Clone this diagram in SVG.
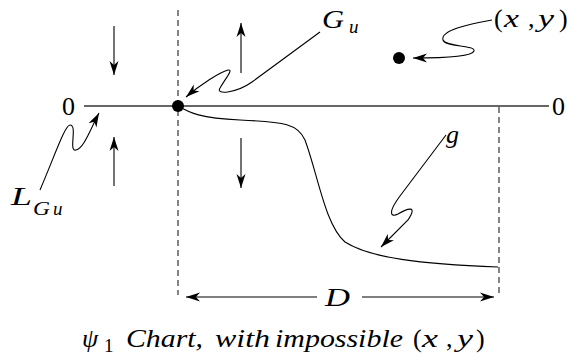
<svg xmlns="http://www.w3.org/2000/svg" width="567" height="360" viewBox="0 0 567 360">
<style>
.ln{fill:none;stroke:#000;stroke-width:1.1}
.ax{fill:none;stroke:#333;stroke-width:1.4}
.da{fill:none;stroke:#333;stroke-width:1.2;stroke-dasharray:6 4}
text{font-family:"Liberation Serif","DejaVu Serif","Times New Roman",serif;font-size:26px;fill:#000}
.i{font-style:italic}
.s{font-size:19px}
</style>
<defs>
<marker id="ah" viewBox="-14 -5 15 10" refX="0" refY="0" markerWidth="15" markerHeight="10" orient="auto" markerUnits="userSpaceOnUse">
<path d="M0,0 L-14,-4.5 L-10,0 L-14,4.5 Z" fill="#000"/>
</marker>
</defs>
<rect width="567" height="360" fill="#fff"/>
<g id="axes">
<line class="ax" x1="84" y1="106" x2="549" y2="106"/>
<line class="da" x1="178" y1="10" x2="178" y2="295"/>
<line class="da" x1="499" y1="107" x2="499" y2="294"/>
<text x="62" y="115">0</text>
<text x="552" y="115">0</text>
</g>
<g id="curve-g">
<path class="ln" d="M178,106 C190,113 200,118 240,120 C285,122 298,124 305,140 C318,175 325,225 345,242 C370,258 420,264 498,267"/>
</g>
<g id="points">
<circle cx="178" cy="106" r="6" fill="#000"/>
<circle cx="399" cy="58" r="6" fill="#000"/>
</g>
<g id="connectors">
<line class="ln" x1="114" y1="26" x2="114" y2="75" marker-end="url(#ah)"/>
<line class="ln" x1="114" y1="186" x2="114" y2="137" marker-end="url(#ah)"/>
<line class="ln" x1="241" y1="73" x2="241" y2="23" marker-end="url(#ah)"/>
<line class="ln" x1="241" y1="138" x2="241" y2="188" marker-end="url(#ah)"/>
<path class="ln" d="M320,32 L252,82 C238,92 215,96 220,88 C225,79 234,69 228,70 C220,72 200,85 186,97" marker-end="url(#ah)"/>
<path class="ln" d="M492,20 C470,24 440,30 443,40 C445,47 476,45 474,51 C472,57 440,58 413,58" marker-end="url(#ah)"/>
<path class="ln" d="M446,135 L400,196 C388,212 390,218 398,214 C408,208 418,205 408,220 L381,247" marker-end="url(#ah)"/>
<path class="ln" d="M40,190 C55,155 65,125 70,125 C78,125 68,152 76,150 C84,148 90,130 99,113" marker-end="url(#ah)"/>
<line class="ln" x1="317" y1="297" x2="186" y2="297" marker-end="url(#ah)"/>
<line class="ln" x1="362" y1="297" x2="494" y2="297" marker-end="url(#ah)"/>
</g>
<g id="labels">
<text class="i" x="322" y="28" textLength="22" lengthAdjust="spacingAndGlyphs">G</text><text class="i s" x="349" y="33">u</text>
<text x="494" y="27">(</text><text class="i" x="504" y="27" textLength="15" lengthAdjust="spacingAndGlyphs">x</text><text x="528" y="27">,</text><text class="i" x="538" y="27" textLength="16" lengthAdjust="spacingAndGlyphs">y</text><text x="559" y="27">)</text>
<text class="i" x="446" y="143">g</text>
<text class="i" x="11" y="205" textLength="21" lengthAdjust="spacingAndGlyphs">L</text><text class="i s" x="33" y="215" textLength="17" lengthAdjust="spacingAndGlyphs">G</text><text class="i s" x="53" y="215">u</text>
<text class="i" x="325" y="306" textLength="25" lengthAdjust="spacingAndGlyphs">D</text>
</g>
<g id="caption">
<text class="i" x="82" y="347">ψ</text><text class="s" x="104" y="352">1</text>
<text class="i" x="126" y="347" textLength="77" lengthAdjust="spacingAndGlyphs">Chart,</text>
<text class="i" x="215" y="347" textLength="55" lengthAdjust="spacingAndGlyphs">with</text>
<text class="i" x="275" y="347" textLength="128" lengthAdjust="spacingAndGlyphs">impossible</text>
<text x="413" y="347">(</text><text class="i" x="422" y="347" textLength="16" lengthAdjust="spacingAndGlyphs">x</text><text x="446" y="347">,</text><text class="i" x="457" y="347" textLength="16" lengthAdjust="spacingAndGlyphs">y</text><text x="476" y="347">)</text>
</g>
</svg>
